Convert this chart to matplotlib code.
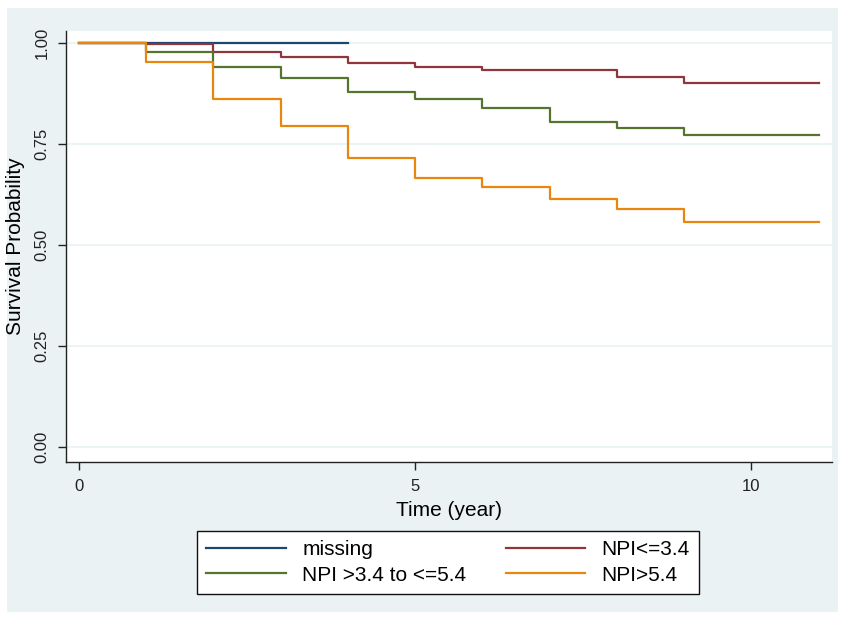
import matplotlib
matplotlib.use("Agg")
import matplotlib.pyplot as plt
from matplotlib.patches import Rectangle

plt.rcParams['font.family'] = ['Liberation Sans', 'DejaVu Sans']

# Kaplan-Meier estimates
t_missing = [0, 4]
s_missing = [1.0, 1.0]

t_years = [0, 1, 2, 3, 4, 5, 6, 7, 8, 9, 11]
s_low = [1.0, 0.997, 0.977, 0.965, 0.952, 0.942, 0.933, 0.933, 0.916, 0.902, 0.902]
s_mid = [1.0, 0.979, 0.942, 0.913, 0.879, 0.861, 0.840, 0.805, 0.791, 0.772, 0.772]
s_high = [1.0, 0.953, 0.862, 0.795, 0.715, 0.666, 0.644, 0.613, 0.590, 0.557, 0.557]

labels = ['missing', 'NPI<=3.4', 'NPI >3.4 to <=5.4', 'NPI>5.4']
colors = ['#1a476f', '#90353b', '#55752f', '#e8870e']

x_ticks = [0, 5, 10]
y_ticks = [0.0, 0.25, 0.5, 0.75, 1.0]

bg = '#eaf2f3'
W, H = 841, 619
fig = plt.figure(figsize=(W / 100, H / 100), dpi=100)
fig.patch.set_facecolor('white')
fig.patches.append(Rectangle((7 / W, 7 / H), 831 / W, 604 / H, transform=fig.transFigure,
                             facecolor=bg, edgecolor='none', zorder=-10))

ax = fig.add_axes([66 / W, (H - 462) / H, (832 - 66) / W, (462 - 31) / H])
ax.set_facecolor('white')

series = [(t_missing, s_missing), (t_years, s_low), (t_years, s_mid), (t_years, s_high)]
handles = []
for (t, s), lab, c in zip(series, labels, colors):
    h, = ax.step(t, s, where='post', color=c, lw=1.6, label=lab)
    handles.append(h)

ax.set_xlim(-0.19, 11.2)
ax.set_ylim(-0.037, 1.03)
ax.set_xticks(x_ticks)
ax.set_xticklabels([str(v) for v in x_ticks])
ax.set_yticks(y_ticks)
ax.set_yticklabels(['%.2f' % v for v in y_ticks], rotation=90, va='center')
ax.grid(axis='y', color=bg, lw=1.2)
ax.set_axisbelow(True)
for sp in ['top', 'right']:
    ax.spines[sp].set_visible(False)
for sp in ['left', 'bottom']:
    ax.spines[sp].set_color('#222222')
    ax.spines[sp].set_linewidth(1.0)
ax.tick_params(direction='out', length=6, width=1, color='#222222',
               labelsize=12, labelcolor='#222222', pad=6)
ax.set_xlabel('Time (year)', fontsize=15, labelpad=5)
ax.set_ylabel('Survival Probability', fontsize=15, labelpad=7)

order = [0, 2, 1, 3]
fig.legend([handles[i] for i in order], [labels[i] for i in order],
           loc='lower left', ncol=2, mode='expand',
           bbox_to_anchor=(197 / W, (H - 594) / H, (699 - 197) / W, 69 / H),
           fontsize=15, frameon=True, fancybox=False, edgecolor='#111111',
           framealpha=1, handlelength=3.8, handletextpad=0.8,
           borderpad=0.45, labelspacing=0.3, borderaxespad=0)

fig.savefig('out.png', dpi=100, facecolor='white')
